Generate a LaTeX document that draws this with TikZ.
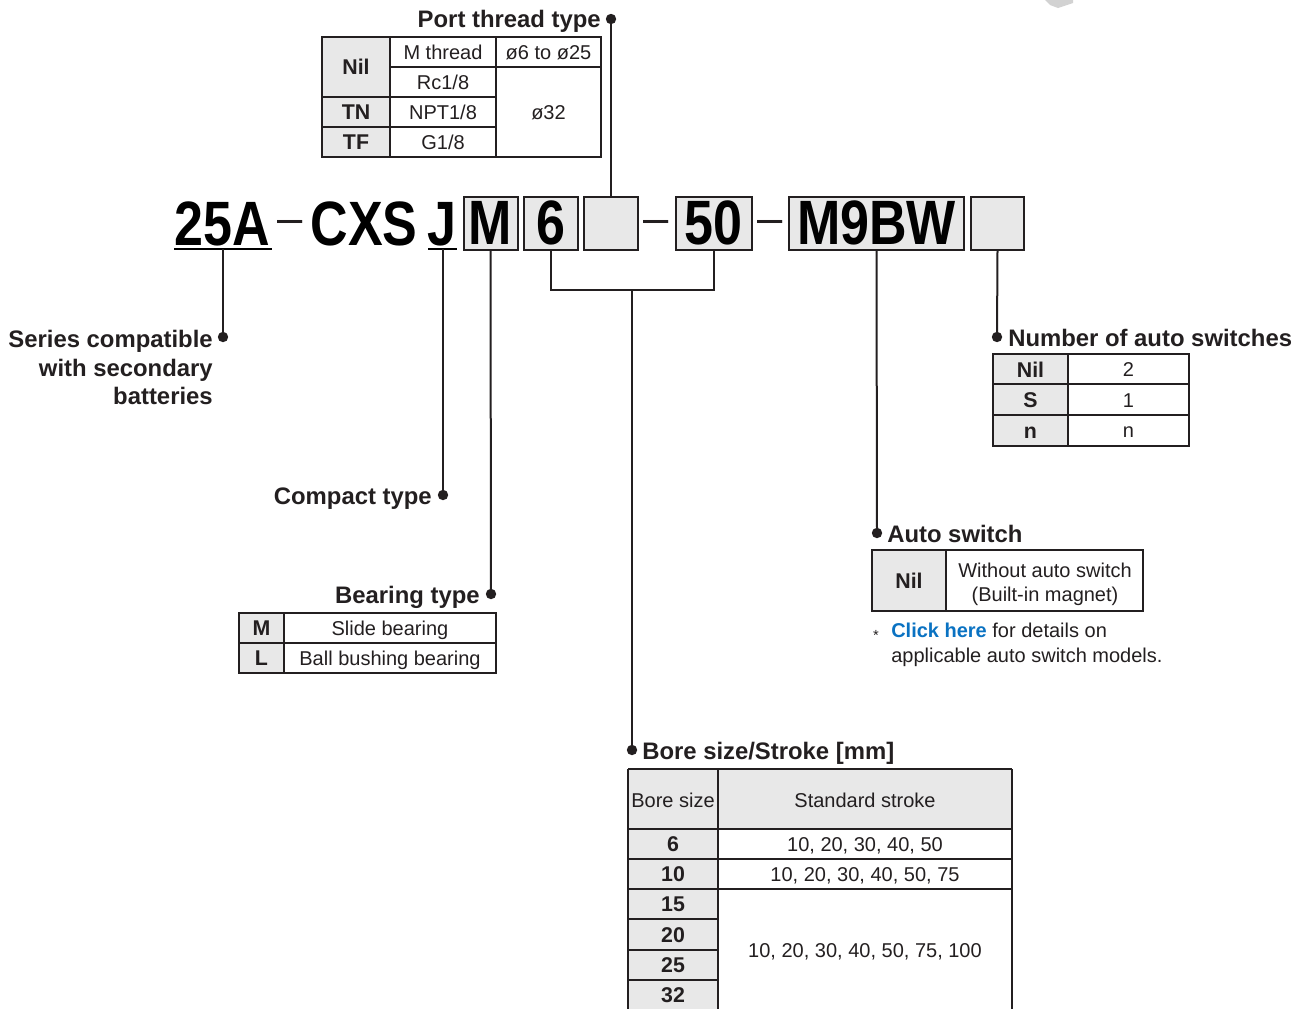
\documentclass[tikz,border=0pt]{standalone}
\usepackage{fontspec}
\setmainfont{Liberation Sans}
\newfontfamily\condf[FakeStretch=0.83]{Liberation Sans Bold}
\definecolor{gry}{HTML}{E8E8E8}
\definecolor{ink}{HTML}{231F20}
\definecolor{clk}{HTML}{0A72C2}
\newcommand\tabf{\fontsize{15pt}{18pt}\selectfont}
\newcommand\tabbf{\fontsize{16pt}{18pt}\selectfont\bfseries}
\newcommand\labf{\fontsize{17.9pt}{21pt}\selectfont\bfseries}
\newcommand\codef{\fontsize{47pt}{50pt}\selectfont\condf}
\newcommand\dashf{\fontsize{34pt}{36pt}\selectfont}
\begin{document}
\begin{tikzpicture}[x=0.75pt,y=-0.75pt,
  conn/.style={draw=ink,line width=1.5pt},
  tline/.style={draw=ink,line width=0.8pt},
  ttop/.style={draw=ink,line width=1.6pt},
  cell/.style={font=\tabf,anchor=base,inner sep=0pt,text=ink},
  bcell/.style={font=\tabbf,anchor=base,inner sep=0pt,text=ink},
  lab/.style={font=\labf,inner sep=0pt,text=ink},
  code/.style={font=\codef,anchor=base,inner sep=0pt,text=black},
  codebox/.style={draw=ink,line width=1.5pt,fill=gry,font=\codef,inner sep=0pt,text=black},
  dashn/.style={font=\dashf,anchor=base,inner sep=0pt,text=ink},
  dot/.style={fill=ink}
]
\useasboundingbox (0,0) rectangle (1303,1008);

% small grey fragment top right
\fill[gray!35] (1045,0) -- (1073,0) -- (1073,3) -- (1058,8) -- (1050,5) -- cycle;

% ---------------- code row ----------------
\node[code] (t25) at (222.5,245) {25A};
\node[dashn] (d1) at (290,233.5) {–};
\node[code] (tcxs) at (364,245) {CXS};
\node[code] (tj) at (442,245) {J};
\draw[line width=1.5pt,draw=black] (174,249) -- (272,249);
\draw[line width=1.5pt,draw=black] (428,249) -- (457,249);

\node[codebox,minimum width=54*0.75pt,minimum height=53*0.75pt] (bM) at (490.5,223) {M};
\node[codebox,minimum width=54*0.75pt,minimum height=53*0.75pt] (b6) at (551,223) {6};
\node[codebox,minimum width=54*0.75pt,minimum height=53*0.75pt] (bP) at (611,223) {};
\node[dashn] (d2) at (656.5,233.5) {–};
\node[codebox,minimum width=76*0.75pt,minimum height=53*0.75pt] (b50) at (713.5,223) {50};
\node[dashn] (d3) at (770.5,233.5) {–};
\node[codebox,minimum width=175*0.75pt,minimum height=53*0.75pt] (bSW) at (876.5,223) {M9BW};
\node[codebox,minimum width=53*0.75pt,minimum height=53*0.75pt] (bN) at (997.5,223) {};

% ---------------- coordinates ----------------
\coordinate (u25) at (223,249);
\coordinate (uJ) at (443,249);
\coordinate (dSeries) at (223,337);
\coordinate (dCompact) at (443,495);
\coordinate (dBearing) at (491,594);
\coordinate (dPort) at (611,19);
\coordinate (brk) at (632,290);
\coordinate (dBore) at (632,750);
\coordinate (dAuto) at (877,533);
\coordinate (dNum) at (997,337);

% ---------------- connectors ----------------
\draw[conn] (u25) -- (dSeries);
\draw[conn] (uJ) -- (dCompact);
\draw[conn] (bM.south) -- (dBearing);
\draw[conn] (bP.north) -- (dPort);
\draw[conn] (b6.south) |- (brk) -| (b50.south);
\draw[conn] (brk) -- (dBore);
\draw[conn] (bSW.south) -- (dAuto);
\draw[conn] (bN.south) -- (dNum);
\foreach \d in {dSeries,dCompact,dBearing,dPort,dBore,dAuto,dNum}
  \fill[dot] (\d) circle (3.9pt);

% ---------------- labels ----------------
\node[lab,anchor=base east] (lPort) at (601,27.5) {Port thread type};
\node[lab,anchor=base east] (lS1) at (213,347.5) {Series compatible};
\node[lab,anchor=base east] (lS2) at (213,376) {with secondary};
\node[lab,anchor=base east] (lS3) at (213,404.5) {batteries};
\node[lab,anchor=base east] (lComp) at (432,504) {Compact type};
\node[lab,anchor=base east] (lBear) at (480,603) {Bearing type};
\node[lab,anchor=base west] (lBore) at (642,759) {Bore size/Stroke [mm]};
\node[lab,anchor=base west] (lAuto) at (887,542) {Auto switch};
\node[lab,anchor=base west] (lNum) at (1008,346.5) {Number of auto switches};

% ---------------- port thread table ----------------
\fill[gry] (322,37) rectangle (390,157);
\draw[tline] (322,37) rectangle (601,157);
\draw[tline] (390,37) -- (390,157);
\draw[tline] (496,37) -- (496,157);
\draw[tline] (390,67) -- (601,67);
\draw[tline] (322,97) -- (496,97);
\draw[tline] (322,127) -- (496,127);
\draw[ttop] (322,37) -- (601,37);
\node[bcell] (pNil) at (356,74.5) {Nil};
\node[bcell] (pTN) at (356,119.5) {TN};
\node[bcell] (pTF) at (356,149.5) {TF};
\node[cell] (pM) at (443,59) {M thread};
\node[cell] (pRc) at (443,89) {Rc1/8};
\node[cell] (pNPT) at (443,119) {NPT1/8};
\node[cell] (pG) at (443,149) {G1/8};
\node[cell] (p625) at (548.5,59) {ø6 to ø25};
\node[cell] (p32) at (548.5,119) {ø32};

% ---------------- bearing table ----------------
\fill[gry] (239,613) rectangle (284,673);
\draw[tline] (239,613) rectangle (496,673);
\draw[tline] (284,613) -- (284,673);
\draw[tline] (239,643) -- (496,643);
\draw[ttop] (239,613) -- (496,613);
\node[bcell] (bmM) at (261.5,635.5) {M};
\node[bcell] (bmL) at (261.5,665.5) {L};
\node[cell] (bmS) at (390,635) {Slide bearing};
\node[cell] (bmB) at (390,665) {Ball bushing bearing};

% ---------------- number of switches table ----------------
\fill[gry] (993,354) rectangle (1068,446);
\draw[tline] (993,354) rectangle (1189,446);
\draw[tline] (1068,354) -- (1068,446);
\draw[tline] (993,384) -- (1189,384);
\draw[tline] (993,415) -- (1189,415);
\draw[ttop] (993,354) -- (1189,354);
\node[bcell] (nNil) at (1030.5,377) {Nil};
\node[bcell] (nS) at (1030.5,407.5) {S};
\node[bcell] (nn) at (1030.5,438) {n};
\node[cell] (n2) at (1128.5,376.5) {2};
\node[cell] (n1) at (1128.5,407) {1};
\node[cell] (nnv) at (1128.5,437.5) {n};

% ---------------- auto switch table ----------------
\fill[gry] (872,550) rectangle (946,611);
\draw[tline] (872,550) rectangle (1143,611);
\draw[tline] (946,550) -- (946,611);
\draw[ttop] (872,550) -- (1143,550);
\node[bcell] (aNil) at (909,588.5) {Nil};
\node[cell] (aW1) at (1045,577) {Without auto switch};
\node[cell] (aW2) at (1045,601) {(Built-in magnet)};
\node[cell,anchor=base] (ast) at (876,640) {\fontsize{11pt}{12pt}\selectfont *};
\node[cell,anchor=base west] (note1) at (891,637) {\textcolor{clk}{\bfseries Click here} for details on};
\node[cell,anchor=base west] (note2) at (891,662) {applicable auto switch models.};

% ---------------- bore table ----------------
\fill[gry] (628,769) rectangle (1012,829);
\fill[gry] (628,829) rectangle (718,1010);
\draw[tline] (628,769) -- (628,1010);
\draw[tline] (1012,769) -- (1012,1010);
\draw[tline] (718,769) -- (718,1010);
\draw[tline] (628,829) -- (1012,829);
\draw[tline] (628,859) -- (1012,859);
\draw[tline] (628,889) -- (1012,889);
\draw[tline] (628,919) -- (718,919);
\draw[tline] (628,950) -- (718,950);
\draw[tline] (628,980) -- (718,980);
\draw[ttop] (628,769) -- (1012,769);
\node[cell] (hB) at (673,807) {Bore size};
\node[cell] (hS) at (865,807) {Standard stroke};
\node[bcell] (r6) at (673,851.5) {6};
\node[bcell] (r10) at (673,881.5) {10};
\node[bcell] (r15) at (673,911.5) {15};
\node[bcell] (r20) at (673,942) {20};
\node[bcell] (r25) at (673,972.5) {25};
\node[bcell] (r32) at (673,1002.5) {32};
\node[cell] (s6) at (865,851) {10, 20, 30, 40, 50};
\node[cell] (s10) at (865,881) {10, 20, 30, 40, 50, 75};
\node[cell] (s15) at (865,957) {10, 20, 30, 40, 50, 75, 100};
\end{tikzpicture}
\end{document}
